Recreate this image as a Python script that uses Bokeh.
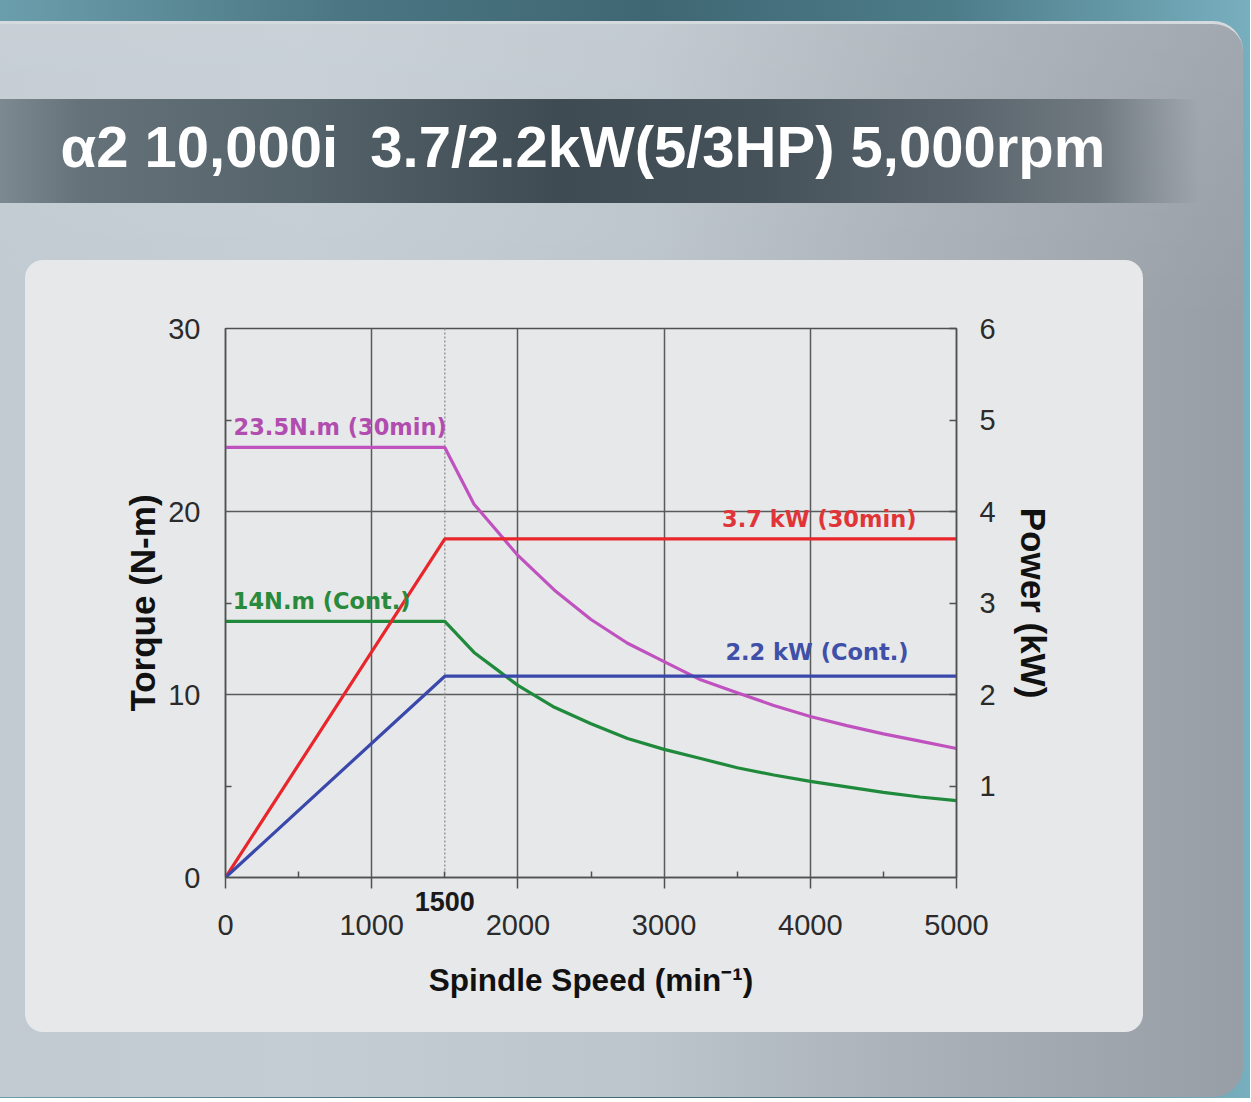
from bokeh.plotting import figure
from bokeh.models import Range1d, LinearAxis, FixedTicker, Label, Span
from bokeh.embed import file_html
from bokeh.resources import INLINE

# ---------------- data ----------------
speed = [0, 1500, 1700, 1850, 2000, 2250, 2500, 2750, 3000, 3250, 3500, 3750, 4000, 4250, 4500, 4750, 5000]
torque_30min = [23.5, 23.5, 20.4, 19.0, 17.6, 15.7, 14.1, 12.8, 11.8, 10.8, 10.1, 9.4, 8.8, 8.3, 7.85, 7.45, 7.05]
torque_cont = [14.0, 14.0, 12.3, 11.4, 10.5, 9.3, 8.4, 7.6, 7.0, 6.5, 6.0, 5.6, 5.25, 4.95, 4.65, 4.4, 4.2]
power_speed = [0, 1500, 5000]
power_30min = [0.0, 3.7, 3.7]
power_cont = [0.0, 2.2, 2.2]

x_ticks = [0, 1000, 2000, 3000, 4000, 5000]
x_minor = [500, 1500, 2500, 3500, 4500]
x_grid = [1000, 2000, 3000, 4000]
torque_ticks = [0, 10, 20, 30]
torque_minor = [5, 15, 25]
torque_grid = [10, 20]
power_ticks = [1, 2, 3, 4, 5, 6]
corner_speed = 1500

title_text = "\u03b12 10,000i\u00a0 3.7/2.2kW(5/3HP) 5,000rpm"
x_label = "Spindle Speed (min\u207b\u00b9)"
y_label = "Torque (N-m)"
y2_label = "Power (kW)"
lbl_t30 = "23.5N.m (30min)"
lbl_tc = "14N.m (Cont.)"
lbl_p30 = "3.7 kW (30min)"
lbl_pc = "2.2 kW (Cont.)"

W, H = 1250, 1098
FL, FR, FT, FB = 225, 956, 328, 877   # plot frame edges in canvas px

css = """
:host {
  position: relative;
  isolation: isolate;
  background: linear-gradient(90deg, #6b9eac 0px, #4b7582 350px, #3f6773 650px, #4d7c89 950px, #78afbf 1250px);
}
:host::before {
  content: "";
  position: absolute;
  left: -40px; top: 21px; width: 1283px; height: 1076px;
  border-radius: 0 30px 30px 0;
  border-top: 3px solid #d4dade;
  box-sizing: border-box;
  background:
    linear-gradient(90deg, #7d8990 0px, #65727a 80px, #55636b 300px, #3f4b52 560px,
                    #46525a 760px, #59646c 960px, #717a81 1100px, rgba(160,167,174,0) 1200px)
      40px 75px / 1200px 104px no-repeat,
    linear-gradient(180deg, rgba(255,255,255,0.10) 0px, rgba(255,255,255,0) 300px),
    linear-gradient(90deg, #c1cad1 0px, #c4cdd4 340px, #bcc5cc 690px, #abb2b9 940px,
                    #a0a7af 1120px, #979ea6 1283px);
  z-index: -2;
}
:host::after {
  content: "";
  position: absolute;
  left: 25px; top: 260px; width: 1118px; height: 772px;
  border-radius: 18px;
  background: #e7e8ea;
  z-index: -1;
}
"""

p = figure(width=W, height=H, x_range=Range1d(0, 5000), y_range=Range1d(0, 30),
           output_backend="svg", toolbar_location=None,
           min_border_left=FL, min_border_right=W - FR, min_border_top=FT, min_border_bottom=H - FB)
p.stylesheets = [css]
p.extra_y_ranges = {"power": Range1d(0, 6)}

p.border_fill_alpha = 0
p.background_fill_color = "#e7e8ea"
p.outline_line_color = "#505050"
p.outline_line_width = 1.5

# handles to the default axes, taken before any extra axis is added
xa = p.below[0]
ya = p.left[0]

# ---------------- title ----------------
p.title.text = title_text
p.title.text_font = "Liberation Sans"
p.title.text_font_style = "bold"
p.title.text_font_size = "58px"
p.title.text_color = "#ffffff"
p.title.align = "left"
p.title.offset = 60 - FL
p.title.standoff = 220

# ---------------- axes ----------------
FONT = "Liberation Sans"
ax_col = "#505050"

# axis nearest the frame: all tick marks + the bold corner-speed label
xa.ticker = FixedTicker(ticks=x_minor, minor_ticks=x_ticks)
xa.major_tick_in = 6
xa.major_tick_out = 0
xa.minor_tick_in = 0
xa.minor_tick_out = 11
xa.major_label_overrides = {v: (str(v) if v == corner_speed else "") for v in x_minor}
xa.major_label_text_font_style = "bold"
xa.major_label_text_font_size = "27px"
xa.major_label_text_color = "#1a1a1a"
xa.major_label_standoff = 3

# main x labels
xb = LinearAxis(ticker=FixedTicker(ticks=x_ticks, minor_ticks=[]))
xb.axis_line_alpha = 0
xb.major_tick_in = 0
xb.major_tick_out = 0
xb.minor_tick_in = 0
xb.minor_tick_out = 0
xb.major_label_standoff = 1
xb.axis_label = x_label
xb.axis_label_standoff = 24
p.add_layout(xb, "below")

ya.ticker = FixedTicker(ticks=torque_ticks, minor_ticks=torque_minor)
ya.major_tick_out = 0
ya.major_tick_in = 0
ya.minor_tick_in = 6
ya.minor_tick_out = 0
ya.major_label_standoff = 25
ya.axis_label = y_label
ya.axis_label_standoff = 3

ya2 = LinearAxis(y_range_name="power", ticker=FixedTicker(ticks=power_ticks, minor_ticks=[]))
ya2.major_tick_out = 0
ya2.major_tick_in = 7
ya2.minor_tick_in = 0
ya2.minor_tick_out = 0
ya2.major_label_standoff = 23
ya2.axis_label = y2_label
ya2.axis_label_standoff = 15
p.add_layout(ya2, "right")

for ax in (xa, xb, ya, ya2):
    ax.axis_line_color = ax_col
    ax.axis_line_width = 1.5
    ax.major_tick_line_color = ax_col
    ax.major_tick_line_width = 1.5
    ax.minor_tick_line_color = ax_col
    ax.minor_tick_line_width = 1.5
    ax.major_label_text_font = FONT
    ax.axis_label_text_font = FONT
    ax.axis_label_text_font_style = "bold"
    ax.axis_label_text_color = "#111111"
for ax in (xb, ya, ya2):
    ax.major_label_text_font_size = "29px"
    ax.major_label_text_color = "#2b2b2b"
xb.axis_label_text_font_size = "31.5px"
ya.axis_label_text_font_size = "35px"
ya2.axis_label_text_font_size = "35px"

# empty spacer axis above the frame (pushes the title panel up)
spacer = LinearAxis(ticker=FixedTicker(ticks=[], minor_ticks=[]))
spacer.axis_line_alpha = 0
spacer.major_tick_in = 0
spacer.major_tick_out = 0
spacer.minor_tick_in = 0
spacer.minor_tick_out = 0
spacer.major_label_standoff = 0
spacer.axis_label = "\u00a0"
spacer.axis_label_text_font_size = "10px"
spacer.axis_label_text_alpha = 0
spacer.axis_label_standoff = 26
p.add_layout(spacer, "above")

p.xgrid.ticker = FixedTicker(ticks=x_grid)
p.ygrid.ticker = FixedTicker(ticks=torque_grid)
for g in (p.xgrid[0], p.ygrid[0]):
    g.grid_line_color = "#5a5a5a"
    g.grid_line_width = 1.5

p.add_layout(Span(location=corner_speed, dimension="height", line_color="#9a9a9a",
                  line_dash="2 2", line_width=1.5, level="underlay"))

# ---------------- curves ----------------
p.line(speed, torque_30min, line_color="#c052bf", line_width=3.2)
p.line(speed, torque_cont, line_color="#1f8a3b", line_width=3.2)
p.line(power_speed, power_30min, line_color="#e8262b", line_width=3.2, y_range_name="power")
p.line(power_speed, power_cont, line_color="#3a47ab", line_width=3.2, y_range_name="power")

# ---------------- labels ----------------
LF = "DejaVu Sans"
def lab(x, y, text, color, align="left", yr="default"):
    p.add_layout(Label(x=x, y=y, text=text, text_color=color, text_font=LF,
                       text_font_style="bold", text_font_size="22.5px",
                       text_align=align, text_baseline="middle", y_range_name=yr))

lab(55, 24.6, lbl_t30, "#b24db0")
lab(50, 15.1, lbl_tc, "#2a8a3c")
lab(4726, 3.92, lbl_p30, "#e03438", align="right", yr="power")
lab(4672, 2.46, lbl_pc, "#4050a8", align="right", yr="power")

open("out.html", "w").write(file_html(p, INLINE))
